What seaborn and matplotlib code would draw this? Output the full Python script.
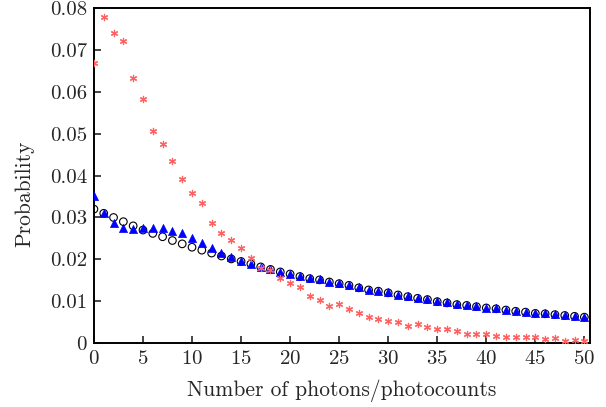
import numpy as np
import pandas as pd
import matplotlib
matplotlib.use('Agg')
import matplotlib.pyplot as plt
import seaborn as sns

# photon number axis
n = list(range(51))

# red asterisks
p_red = [0.0669, 0.0779, 0.0740, 0.0721, 0.0633, 0.0583, 0.0506, 0.0475, 0.0435, 0.0392,
         0.0358, 0.0334, 0.0287, 0.0263, 0.0246, 0.0227, 0.0203, 0.0179, 0.0174, 0.0155,
         0.0143, 0.0134, 0.0112, 0.0103, 0.0088, 0.0093, 0.0081, 0.0072, 0.0062, 0.0057,
         0.0053, 0.0050, 0.0041, 0.0045, 0.0038, 0.0033, 0.0033, 0.0029, 0.0022, 0.0022,
         0.0022, 0.0017, 0.0014, 0.0014, 0.0014, 0.0014, 0.0010, 0.0012, 0.0006, 0.0007,
         0.0006]

# blue triangles
p_blue = [0.0351, 0.0311, 0.0286, 0.0275, 0.0273, 0.0274, 0.0275, 0.0274, 0.0268, 0.0262,
          0.0251, 0.0240, 0.0228, 0.0216, 0.0205, 0.0196, 0.0188, 0.0181, 0.0176, 0.0170,
          0.0165, 0.0160, 0.0155, 0.0152, 0.0147, 0.0143, 0.0139, 0.0133, 0.0128, 0.0125,
          0.0121, 0.0116, 0.0112, 0.0108, 0.0105, 0.0100, 0.0097, 0.0093, 0.0091, 0.0088,
          0.0085, 0.0083, 0.0080, 0.0077, 0.0075, 0.0072, 0.0071, 0.0069, 0.0067, 0.0065,
          0.0063]

# black open circles
p_black = [0.0320, 0.0310, 0.0300, 0.0290, 0.0280, 0.0270, 0.0262, 0.0254, 0.0245, 0.0237,
           0.0229, 0.0222, 0.0215, 0.0208, 0.0201, 0.0195, 0.0189, 0.0182, 0.0176, 0.0170,
           0.0165, 0.0159, 0.0154, 0.0151, 0.0146, 0.0142, 0.0138, 0.0132, 0.0127, 0.0124,
           0.0120, 0.0115, 0.0111, 0.0107, 0.0104, 0.0099, 0.0096, 0.0092, 0.0090, 0.0087,
           0.0084, 0.0082, 0.0079, 0.0076, 0.0074, 0.0071, 0.0070, 0.0068, 0.0066, 0.0064,
           0.0062]

sns.set_style('ticks')
plt.rcParams['font.family'] = ['cmr10', 'DejaVu Serif']
plt.rcParams['mathtext.fontset'] = 'cm'
plt.rcParams['axes.formatter.use_mathtext'] = True
plt.rcParams['axes.unicode_minus'] = False

df = pd.DataFrame({'n': n, 'red': p_red, 'blue': p_blue, 'black': p_black})

fig = plt.figure(figsize=(6.06, 4.07), dpi=100)
ax = fig.add_axes([0.155, 0.157, 0.819, 0.823])

sns.scatterplot(data=df, x='n', y='black', ax=ax, marker='o', s=30,
                facecolor='none', edgecolor='black', linewidth=0.8, zorder=3)
sns.scatterplot(data=df, x='n', y='blue', ax=ax, marker='^', s=34,
                color='#0000ff', edgecolor='#0000ff', linewidth=0.5, zorder=4)
sns.scatterplot(data=df, x='n', y='red', ax=ax, marker=(6, 2, 0), s=20,
                color='#ff6060', edgecolor='#ff6060', linewidth=0.9, zorder=5)

ax.set_xlim(0, 50.6)
ax.set_ylim(0, 0.08)
ax.set_xticks(range(0, 51, 5))
ax.set_yticks(np.arange(0, 0.081, 0.01))
ax.set_yticklabels(['0'] + ['%.2f' % v for v in np.arange(0.01, 0.081, 0.01)])
ax.tick_params(direction='in', length=5, width=1.2, labelsize=15, pad=5,
               top=False, right=False)
for sp in ax.spines.values():
    sp.set_linewidth(1.4)
    sp.set_color('black')
ax.set_xlabel('Number of photons/photocounts', fontsize=15.5, labelpad=8)
ax.set_ylabel('Probability', fontsize=15.5)
ax.yaxis.set_label_coords(-0.12, 0.445)

fig.savefig('out.png', dpi=100)
